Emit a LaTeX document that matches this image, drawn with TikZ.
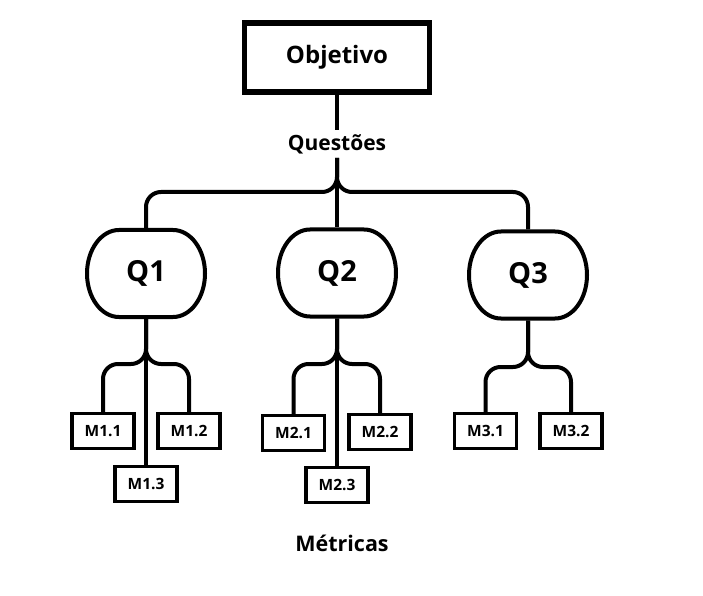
\documentclass[tikz,border=0pt]{standalone}
\usepackage{fontspec}
\setmainfont{Open Sans}
\begin{document}
\begin{tikzpicture}[x=1pt,y=1pt,
  objbox/.style={draw, line width=5.5pt, minimum width=185pt, minimum height=69pt, font=\bfseries\fontsize{24}{26}\selectfont, outer sep=0pt, inner sep=0pt},
  qnode/.style={minimum width=122pt, minimum height=91pt, font=\bfseries\fontsize{29}{31}\selectfont, outer sep=0pt, inner sep=0pt},
  qline/.style={line width=4pt},
  mbox/.style={draw, line width=3.8pt, minimum width=62pt, minimum height=35pt, font=\bfseries\fontsize{15.5}{17}\selectfont, outer sep=0pt, inner sep=0pt},
  lbl/.style={font=\bfseries\fontsize{21}{23}\selectfont, inner sep=4pt},
  conn/.style={line width=4pt, rounded corners=15pt},
]
\useasboundingbox (0,0) rectangle (703,595);
\fill[white] (0,0) rectangle (703,595);

\node[objbox] (obj) at (337,537.5) {Objetivo};
\node[lbl] (ques) at (337,451) {Questões};

% question shapes
\newcommand{\qshape}{%
  \draw[qline] (-27,43.5) -- (27,43.5)
    arc[start angle=90,end angle=-90,x radius=32,y radius=43.5]
    -- (-27,-43.5)
    arc[start angle=-90,end angle=-270,x radius=32,y radius=43.5] -- cycle;}
\begin{scope}[shift={(146,321.5)}]\qshape\end{scope}
\begin{scope}[shift={(337,322)}]\qshape\end{scope}
\begin{scope}[shift={(528,320)}]\qshape\end{scope}
\node[qnode] (q1) at (146,321.5) {Q1};
\node[qnode] (q2) at (337,322) {Q2};
\node[qnode] (q3) at (528,320) {Q3};

\node[mbox] (m11) at (103,164) {M1.1};
\node[mbox] (m12) at (189,164) {M1.2};
\node[mbox] (m13) at (146,111) {M1.3};
\node[mbox] (m21) at (293.5,162) {M2.1};
\node[mbox] (m22) at (380,163) {M2.2};
\node[mbox] (m23) at (337,110) {M2.3};
\node[mbox] (m31) at (485.5,164) {M3.1};
\node[mbox] (m32) at (571,164) {M3.2};

\node[lbl, font=\bfseries\fontsize{21.5}{23}\selectfont] (met) at (342,52) {Métricas};

\coordinate (hq) at (337,403);
\coordinate (h1) at (146,231);
\coordinate (h2) at (337,231);
\coordinate (h3) at (528,228);

\draw[conn] (obj.south) -- (ques.north);
\draw[conn] (ques.south) -- (hq) -| (q1.north);
\draw[conn] (ques.south) -- (hq) -| (q3.north);
\draw[conn] (ques.south) -- (q2.north);

\draw[conn] (q1.south) -- (h1) -| (m11.north);
\draw[conn] (q1.south) -- (h1) -| (m12.north);
\draw[conn] (q1.south) -- (m13.north);

\draw[conn] (q2.south) -- (h2) -| (m21.north);
\draw[conn] (q2.south) -- (h2) -| (m22.north);
\draw[conn] (q2.south) -- (m23.north);

\draw[conn] (q3.south) -- (h3) -| (m31.north);
\draw[conn] (q3.south) -- (h3) -| (m32.north);
\end{tikzpicture}
\end{document}
